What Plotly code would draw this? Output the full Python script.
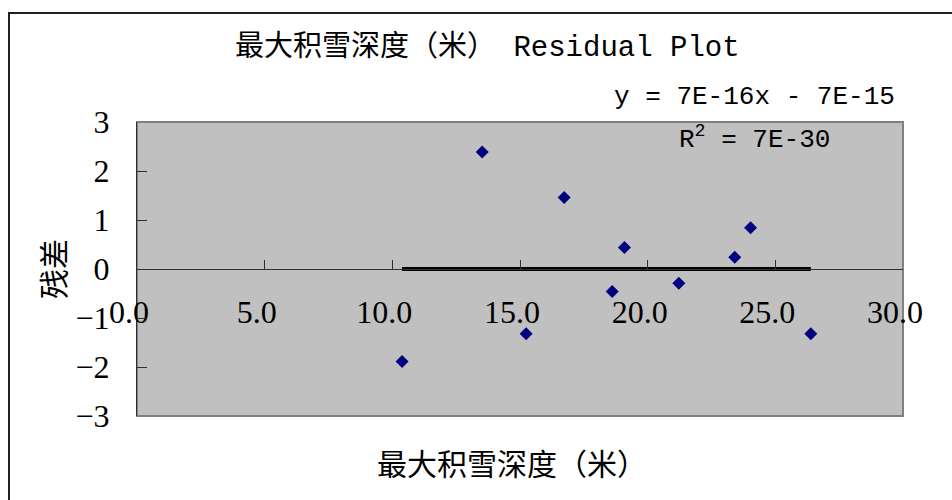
import plotly.graph_objects as go

# data
x_vals = [10.38, 13.52, 15.24, 16.73, 18.61, 19.09, 21.22, 23.41, 24.03, 26.39]
residuals = [-1.89, 2.39, -1.32, 1.46, -0.46, 0.44, -0.29, 0.24, 0.84, -1.32]
trend_slope = 7e-16
trend_intercept = -7e-15
title_text = "最大积雪深度（米） Residual Plot"
x_title = "最大积雪深度（米）"
y_title = "残差"
eq_line1 = "y = 7E-16x - 7E-15"
eq_line2 = "R<sup>2</sup> = 7E-30"

trend_x = [min(x_vals), max(x_vals)]
trend_y = [trend_slope * v + trend_intercept for v in trend_x]

W, H = 952, 500
L, R, T, B = 137, 49, 122, 84
pw, ph = W - L - R, H - T - B

def px(p):
    return (p - L) / pw

def py(q):
    return (H - B - q) / ph

cjk = "Noto Sans CJK SC"
mono = "Liberation Mono, Noto Sans CJK SC"
serif = "Liberation Serif"

fig = go.Figure()
fig.add_trace(go.Scatter(x=trend_x, y=trend_y, mode="lines",
                         line=dict(color="black", width=4), showlegend=False, hoverinfo="skip"))
fig.add_trace(go.Scatter(x=x_vals, y=residuals, mode="markers",
                         marker=dict(symbol="diamond", size=10, color="#000080"),
                         showlegend=False))

def ann(text, xp, yp, family, size, angle=0):
    return dict(text=text, x=px(xp), y=py(yp), xref="paper", yref="paper",
                xanchor="center", yanchor="middle", textangle=angle,
                showarrow=False, font=dict(family=family, size=size, color="black"))

fig.update_layout(
    width=W, height=H,
    margin=dict(l=L, r=R, t=T, b=B),
    paper_bgcolor="white", plot_bgcolor="#C0C0C0",
    xaxis=dict(range=[0, 30], dtick=5, tick0=0, tickformat=".1f",
               ticksuffix="\u2002",
               anchor="free", position=0.5, showgrid=False, zeroline=False,
               showline=True, linecolor="#303030", linewidth=1,
               ticks="inside", ticklen=9, tickcolor="#303030", tickwidth=1,
               ticklabelstandoff=15,
               tickfont=dict(family=serif, size=32, color="black")),
    yaxis=dict(range=[-3, 3], dtick=1, showgrid=False, zeroline=False,
               showline=True, linecolor="#303030", linewidth=1,
               ticks="inside", ticklen=10, tickcolor="#303030", tickwidth=1,
               ticklabelstandoff=20,
               tickfont=dict(family=serif, size=32, color="black")),
    shapes=[
        dict(type="rect", xref="paper", yref="paper", x0=0, x1=1, y0=0, y1=1,
             line=dict(color="#808080", width=2), layer="below"),
        dict(type="rect", xref="paper", yref="paper", x0=px(9), x1=px(1000), y0=py(13), y1=py(540),
             line=dict(color="#202020", width=2), fillcolor="rgba(0,0,0,0)"),
    ],
    annotations=[
        ann(title_text, 487, 47, mono, 29),
        ann(eq_line1, 754, 97, mono, 26),
        ann(eq_line2, 754, 138, mono, 26),
        ann(x_title, 512, 462, cjk, 30),
        ann(y_title, 52, 269, cjk, 30, -90),
    ],
)

fig.write_html("out.html")
